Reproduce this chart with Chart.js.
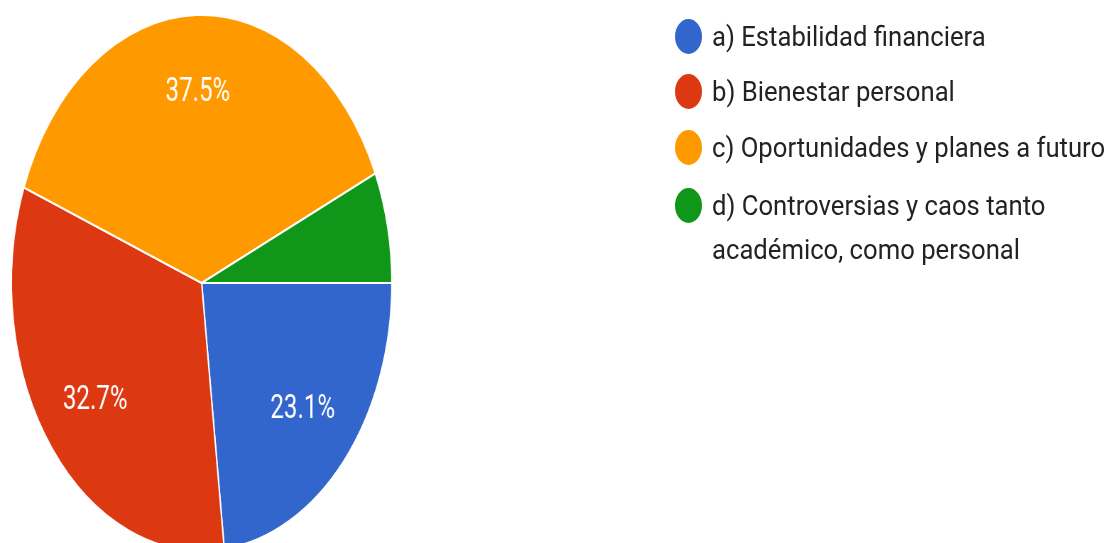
<!DOCTYPE html>
<html>
<head>
<meta charset="utf-8">
<script src="https://cdn.jsdelivr.net/npm/chart.js@4"></script>
<style>
  html, body { margin: 0; padding: 0; background: #fff; }
  body { width: 1107px; height: 543px; overflow: hidden; position: relative; }
  /* the reference is squeezed horizontally, so the pie stage is scaled on x */
  #stage { position: absolute; left: 0; top: 0; width: 1560px; height: 543px;
           transform: scaleX(0.71); transform-origin: 0 0; }
  #pieBox { position: absolute; left: -16px; top: -17px; width: 600px; height: 600px; }
  #legend { position: absolute; left: 675px; top: 0; font-family: Roboto, sans-serif;
            font-size: 27px; color: #222; }
  .item { position: absolute; left: 0; display: flex; align-items: flex-start; white-space: nowrap; }
  .dot { width: 27px; height: 35px; border-radius: 50%; margin-top: 4px; margin-right: 10px; flex: none; }
  .txt { line-height: 44px; transform: scaleX(0.95); transform-origin: 0 0; }
</style>
</head>
<body>
<div id="stage">
  <div id="pieBox"><canvas id="pie" width="600" height="600"></canvas></div>
</div>
<div id="legend"></div>
<script>
const etiquetas = [
  "a) Estabilidad financiera",
  "b) Bienestar personal",
  "c) Oportunidades y planes a futuro",
  ["d) Controversias y caos tanto", "académico, como personal"]
];
const valores = [23.1, 32.7, 37.5, 6.7];
const colores = ["#3366cc", "#dc3912", "#ff9900", "#109618"];

// leyenda en HTML (filas con texto real)
const filasTop = [15, 70, 126, 184];
const legend = document.getElementById("legend");
etiquetas.forEach((et, i) => {
  const item = document.createElement("div");
  item.className = "item";
  item.style.top = filasTop[i] + "px";
  const dot = document.createElement("div");
  dot.className = "dot";
  dot.style.background = colores[i];
  const txt = document.createElement("div");
  txt.className = "txt";
  txt.innerHTML = (Array.isArray(et) ? et : [et]).join("<br>");
  item.appendChild(dot);
  item.appendChild(txt);
  legend.appendChild(item);
});

// porcentajes dentro de las porciones
const etiquetasPct = {
  id: "etiquetasPct",
  afterDatasetsDraw(chart) {
    const ctx = chart.ctx;
    const meta = chart.getDatasetMeta(0);
    ctx.save();
    ctx.fillStyle = "#fff";
    ctx.font = "34px Roboto, sans-serif";
    ctx.textAlign = "center";
    ctx.textBaseline = "middle";
    meta.data.forEach((arc, i) => {
      const v = valores[i];
      if (v < 10) return;
      const p = arc.getProps(["x", "y", "startAngle", "endAngle", "outerRadius"], true);
      const mid = (p.startAngle + p.endAngle) / 2;
      const r = p.outerRadius * 0.71;
      ctx.fillText(v.toFixed(1) + "%", p.x + Math.cos(mid) * r, p.y + Math.sin(mid) * r);
    });
    ctx.restore();
  }
};

new Chart(document.getElementById("pie"), {
  type: "pie",
  data: {
    labels: etiquetas.map(e => Array.isArray(e) ? e.join(" ") : e),
    datasets: [{
      data: valores,
      backgroundColor: colores,
      borderColor: "#fff",
      borderWidth: 2,
      hoverOffset: 0,
      offset: 0
    }]
  },
  options: {
    responsive: false,
    animation: false,
    rotation: 90,
    radius: 268,
    layout: { padding: 0 },
    plugins: {
      legend: { display: false },
      tooltip: { enabled: false }
    }
  },
  plugins: [etiquetasPct]
});
</script>
</body>
</html>
